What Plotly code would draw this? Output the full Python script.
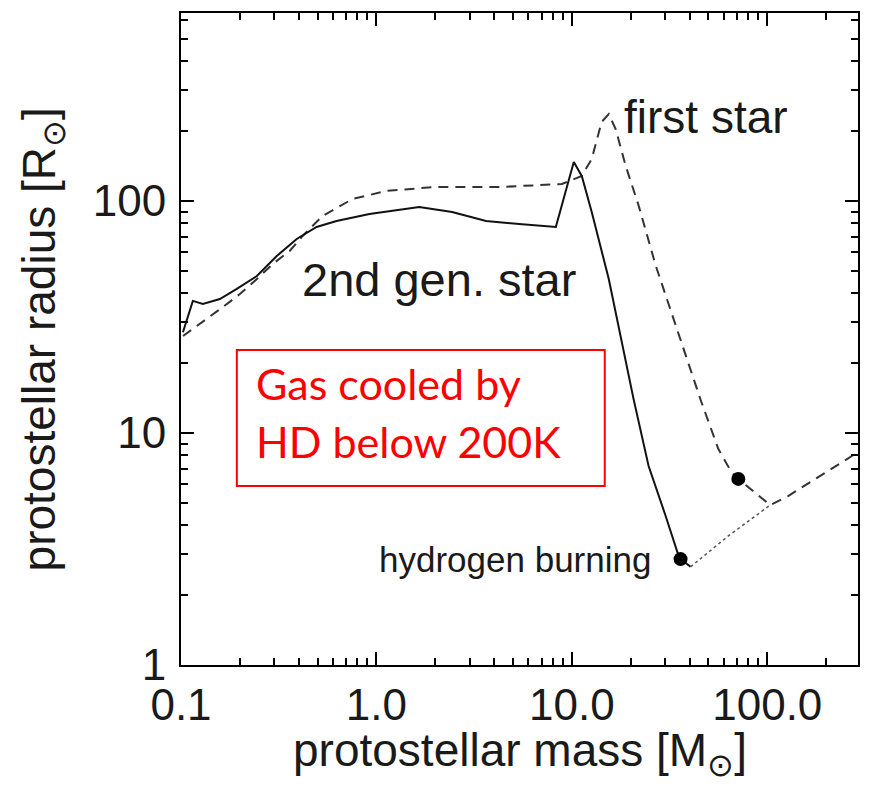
import plotly.graph_objects as go

# ---- data ----
# 2nd generation star (solid), protostellar mass [Msun] vs radius [Rsun]
second_mass = [0.1023, 0.115, 0.1294, 0.158, 0.193, 0.2445, 0.309, 0.391, 0.494, 0.625,
               0.921, 1.656, 2.44, 3.64, 5.37, 8.28, 10.23, 11.24, 12.64, 15.45,
               20.7, 24.7, 30.2, 35.2, 36.0, 40.5]
second_radius = [27.2, 37.1, 36.0, 37.8, 41.8, 47.5, 57.9, 68.6, 77.3, 82.0,
                 87.9, 94.2, 89.7, 82.0, 79.6, 77.3, 147.3, 128.2, 89.7, 46.1,
                 14.0, 7.21, 4.39, 2.95, 2.86, 2.65]
# 2nd gen. star after hydrogen burning (dotted)
second_ms_mass = [40.5, 63.2, 103.5]
second_ms_radius = [2.65, 3.60, 4.89]

# first star (dashed)
first_mass = [0.1024, 0.1294, 0.1637, 0.200, 0.2445, 0.2946, 0.360, 0.419, 0.530, 0.755,
              1.124, 2.02, 4.39, 8.89, 11.24, 12.64, 14.2, 15.45, 16.76, 18.87,
              22.0, 26.9, 46.0, 56.2, 65.5, 71.1, 103.5, 127.9, 268.5, 298.0]
first_radius = [26.2, 30.1, 34.9, 39.7, 46.1, 53.5, 60.9, 70.7, 86.2, 102.0,
                110.5, 115.0, 115.0, 118.4, 128.2, 151.7, 219.0, 237.0, 204.0, 141.5,
                95.1, 52.5, 13.6, 8.53, 6.79, 6.34, 4.89, 5.35, 7.88, 8.37]

# hydrogen burning onset markers
hburn_mass = [36.0, 71.1]
hburn_radius = [2.86, 6.34]

x_tickvals = [0.1, 1, 10, 100]
x_ticktext = ["0.1", "1.0", "10.0", "100.0"]
y_tickvals = [1, 10, 100]
y_ticktext = ["1", "10", "100"]
x_minor = [k * 10.0 ** e for e in (-1, 0, 1, 2) for k in range(2, 10)]
y_minor = [k * 10.0 ** e for e in (0, 1, 2) for k in range(2, 10)]

FONT = "Liberation Sans"
PAGE_MARGIN = 8                      # browser default body margin
W, H = 869 - 2 * PAGE_MARGIN, 788 - 2 * PAGE_MARGIN
# plot-area edges in page pixels
L, R, T, B = 181, 860, 13, 665
X_RANGE = [-1, -1 + (R - L) / 196.0]
Y_RANGE = [0, (B - T) / 232.0]


def px(x):
    return (x - L) / (R - L)


def py(y):
    return (B - y) / (B - T)


fig = go.Figure()
fig.add_trace(go.Scatter(x=first_mass, y=first_radius, mode="lines",
                         line=dict(color="#333333", width=2, dash="10px,7px"),
                         showlegend=False))
fig.add_trace(go.Scatter(x=second_mass, y=second_radius, mode="lines",
                         line=dict(color="#111111", width=2),
                         showlegend=False))
fig.add_trace(go.Scatter(x=second_ms_mass, y=second_ms_radius, mode="lines",
                         line=dict(color="#555555", width=1.5, dash="dot"),
                         showlegend=False))
fig.add_trace(go.Scatter(x=hburn_mass, y=hburn_radius, mode="markers",
                         marker=dict(color="black", size=14),
                         showlegend=False))
# invisible trace carrying the minor-tick axes
fig.add_trace(go.Scatter(x=hburn_mass, y=hburn_radius, mode="markers",
                         marker=dict(opacity=0), xaxis="x2", yaxis="y2",
                         hoverinfo="skip", showlegend=False))

base = dict(type="log", showgrid=False, zeroline=False, showline=True,
            linecolor="black", linewidth=2, mirror="allticks", ticks="inside",
            tickcolor="black", tickmode="array")
lab_font = dict(family=FONT, size=44, color="#1a1a1a")

fig.update_layout(
    xaxis=dict(**base, range=X_RANGE, tickvals=x_tickvals, ticktext=x_ticktext,
               ticklen=13, tickwidth=2, tickfont=lab_font, ticklabelstandoff=0),
    yaxis=dict(**base, range=Y_RANGE, tickvals=y_tickvals, ticktext=y_ticktext,
               ticklen=13, tickwidth=2, tickfont=lab_font, ticklabelstandoff=4),
    xaxis2=dict(**base, range=X_RANGE, tickvals=x_minor, ticklen=7, tickwidth=1.5,
                showticklabels=False, overlaying="x", anchor="y", side="bottom"),
    yaxis2=dict(**base, range=Y_RANGE, tickvals=y_minor, ticklen=7, tickwidth=1.5,
                showticklabels=False, overlaying="y", anchor="x", side="left"),
)

ann_font = dict(family=FONT, size=46, color="#1a1a1a")
annotations = [
    dict(text="protostellar mass [M<sub>⊙</sub>]", x=0.5, y=py(753), xanchor="center",
         yanchor="middle", font=ann_font),
    dict(text="protostellar radius [R<sub>⊙</sub>]", x=px(42), y=0.5, xanchor="center",
         yanchor="middle", textangle=-90, font=ann_font),
    dict(text="first star", x=px(623), y=py(117), xanchor="left", yanchor="middle",
         font=ann_font),
    dict(text="2nd gen. star", x=px(300), y=py(279), xanchor="left", yanchor="middle",
         font=dict(family=FONT, size=47, color="#1a1a1a")),
    dict(text="hydrogen burning", x=px(378), y=py(559), xanchor="left", yanchor="middle",
         font=dict(family=FONT, size=35, color="#1a1a1a")),
    dict(text="Gas cooled by", x=px(254), y=py(384), xanchor="left", yanchor="middle",
         font=dict(family="Lato", size=43, color="#ff0000")),
    dict(text="HD below 200K", x=px(254), y=py(441), xanchor="left", yanchor="middle",
         font=dict(family="Lato", size=43, color="#ff0000")),
]
for a in annotations:
    a.update(xref="paper", yref="paper", showarrow=False)

fig.update_layout(
    width=W, height=H,
    margin=dict(l=L - PAGE_MARGIN, r=W - (R - PAGE_MARGIN), t=T - PAGE_MARGIN,
                b=H - (B - PAGE_MARGIN)),
    paper_bgcolor="white", plot_bgcolor="white",
    annotations=annotations,
    shapes=[dict(type="rect", xref="paper", yref="paper", x0=px(237), x1=px(606),
                 y0=py(486), y1=py(350), line=dict(color="#ff0000", width=2))],
)

fig.write_html("out.html")
